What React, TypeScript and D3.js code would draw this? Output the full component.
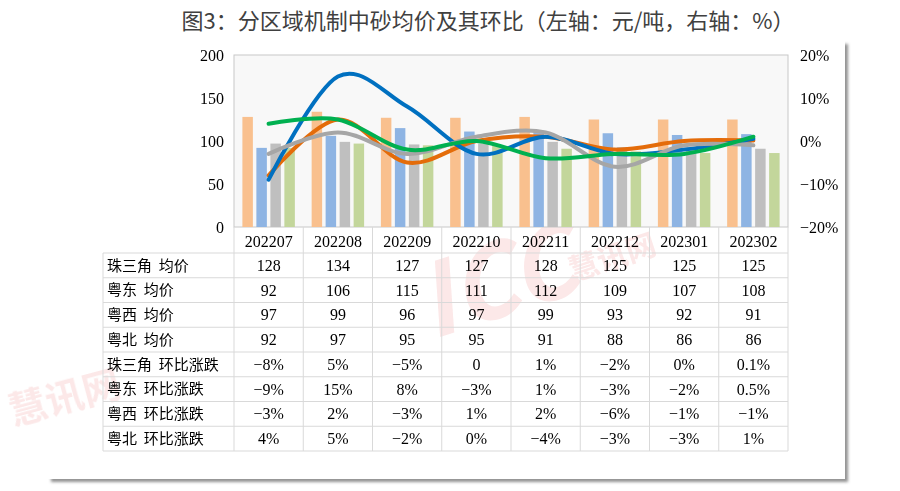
import React from 'react'
import * as d3 from 'd3'

// chart data
const months = ['202207', '202208', '202209', '202210', '202211', '202212', '202301', '202302']
const regions = ['珠三角', '粤东', '粤西', '粤北']

const zsjPrice = [128, 134, 127, 127, 128, 125, 125, 125]
const ydPrice = [92, 106, 115, 111, 112, 109, 107, 108]
const yxPrice = [97, 99, 96, 97, 99, 93, 92, 91]
const ybPrice = [92, 97, 95, 95, 91, 88, 86, 86]

// month-on-month change, as printed in the table
const zsjChange = ['-8%', '5%', '-5%', '0', '1%', '-2%', '0%', '0.1%']
const ydChange = ['-9%', '15%', '8%', '-3%', '1%', '-3%', '-2%', '0.5%']
const yxChange = ['-3%', '2%', '-3%', '1%', '2%', '-6%', '-1%', '-1%']
const ybChange = ['4%', '5%', '-2%', '0%', '-4%', '-3%', '-3%', '1%']

const leftTicks = [0, 50, 100, 150, 200]
const rightTicks = [-20, -10, 0, 10, 20]

const prices = [zsjPrice, ydPrice, yxPrice, ybPrice]
const changes = [zsjChange, ydChange, yxChange, ybChange]

const barColors = ['#F9C08E', '#8EB4E3', '#BFBFBF', '#C3D69B']
const lineColors = ['#E46C0A', '#0070C0', '#A6A6A6', '#00B050']

const W = 900
const H = 491
const plot = { left: 234, right: 788, top: 55, bottom: 227 }
const tableLeft = 103
const rowH = 24.75
const rowTop = 253

const serif = '"Liberation Serif", "Noto Sans CJK SC", serif'
const cjk = '"Noto Sans CJK SC", sans-serif'

const minus = (s: string) => s.replace('-', '−')

export default function App() {
  const x = d3.scaleBand().domain(months).range([plot.left, plot.right])
  const xi = d3.scaleBand().domain(regions).range([0, x.bandwidth()]).paddingInner(0.25).paddingOuter(0.6)
  const yL = d3.scaleLinear().domain([0, 200]).range([plot.bottom, plot.top])
  const yR = d3.scaleLinear().domain([-20, 20]).range([plot.bottom, plot.top])

  const line = d3.line<number>()
    .x((_, i) => x(months[i])! + x.bandwidth() / 2)
    .y(d => yR(d))
    .curve(d3.curveCardinal.tension(0))

  const rowLabels = [
    ...regions.map(r => `${r}  均价`),
    ...regions.map(r => `${r}  环比涨跌`),
  ]
  const rowValues: string[][] = [
    ...prices.map(p => p.map(String)),
    ...changes.map(c => c.map(minus)),
  ]

  const tableBottom = rowTop + rowH * rowLabels.length

  return (
    <svg width={W} height={H} style={{ position: 'absolute', left: 0, top: 0, background: '#fff' }}>
      <defs>
        <filter id="shadow" x="-5%" y="-5%" width="110%" height="110%">
          <feDropShadow dx="3" dy="3" stdDeviation="1.5" floodColor="#777" floodOpacity="0.8" />
        </filter>
      </defs>

      {/* title */}
      <text x={488} y={29} textAnchor="middle" fontFamily={cjk} fontSize={22} fill="#404040">
        图3：分区域机制中砂均价及其环比（左轴：元/吨，右轴：%）
      </text>

      {/* card */}
      <rect x={48} y={41} width={797} height={438} fill="#fff" filter="url(#shadow)" />

      {/* watermarks */}
      <g opacity={0.11} fill="#E03030" fontFamily={cjk} fontWeight="bold">
        <text x={415} y={325} fontSize={100} fontStyle="italic" transform="rotate(-18 470 280)">ICC</text>
        <text x={568} y={272} fontSize={30} transform="rotate(-18 600 262)">慧讯网</text>
        <text x={8} y={412} fontSize={38} transform="rotate(-15 60 400)">慧讯网</text>
      </g>

      {/* plot area */}
      <rect x={plot.left} y={plot.top} width={plot.right - plot.left} height={plot.bottom - plot.top}
        fill="#F8F8F8" stroke="#C8C8C8" strokeWidth={1} />

      {/* bars */}
      {prices.map((series, s) => (
        <g key={regions[s]} fill={barColors[s]}>
          {series.map((v, i) => (
            <rect key={i} x={x(months[i])! + xi(regions[s])!} y={yL(v)} width={xi.bandwidth()}
              height={plot.bottom - yL(v)} />
          ))}
        </g>
      ))}

      {/* lines */}
      {changes.map((series, s) => (
        <path key={regions[s]} d={line(series.map(v => parseFloat(v)))!} fill="none"
          stroke={lineColors[s]} strokeWidth={4} strokeLinecap="round" />
      ))}

      {/* left axis */}
      {leftTicks.map(t => (
        <text key={t} x={224} y={yL(t)} dy="0.35em" textAnchor="end" fontFamily={serif} fontSize={16} fill="#000">
          {t}
        </text>
      ))}

      {/* right axis */}
      {rightTicks.map(t => (
        <text key={t} x={800} y={yR(t)} dy="0.35em" fontFamily={serif} fontSize={16} fill="#000">
          {minus(`${t}%`)}
        </text>
      ))}

      {/* table grid */}
      <g stroke="#D9D9D9" strokeWidth={1}>
        {d3.range(rowLabels.length + 1).map(r => (
          <line key={'h' + r} x1={tableLeft} x2={plot.right} y1={rowTop + r * rowH} y2={rowTop + r * rowH} />
        ))}
        <line x1={tableLeft} x2={tableLeft} y1={rowTop} y2={tableBottom} />
        {d3.range(months.length + 1).map(c => (
          <line key={'v' + c} x1={plot.left + c * x.step()} x2={plot.left + c * x.step()}
            y1={plot.bottom} y2={tableBottom} />
        ))}
      </g>

      {/* category labels */}
      {months.map(m => (
        <text key={m} x={x(m)! + x.bandwidth() / 2} y={(plot.bottom + rowTop) / 2 + 1} dy="0.35em"
          textAnchor="middle" fontFamily={serif} fontSize={16} fill="#000">
          {m}
        </text>
      ))}

      {/* table rows */}
      {rowLabels.map((label, r) => (
        <g key={label}>
          <text x={tableLeft + 4} y={rowTop + r * rowH + rowH / 2} dy="0.35em" fontFamily={cjk} fontSize={15}
            fill="#000" style={{ whiteSpace: 'pre' }}>
            {label}
          </text>
          {rowValues[r].map((v, i) => (
            <text key={i} x={x(months[i])! + x.bandwidth() / 2} y={rowTop + r * rowH + rowH / 2} dy="0.35em"
              textAnchor="middle" fontFamily={serif} fontSize={16} fill="#000">
              {v}
            </text>
          ))}
        </g>
      ))}
    </svg>
  )
}
